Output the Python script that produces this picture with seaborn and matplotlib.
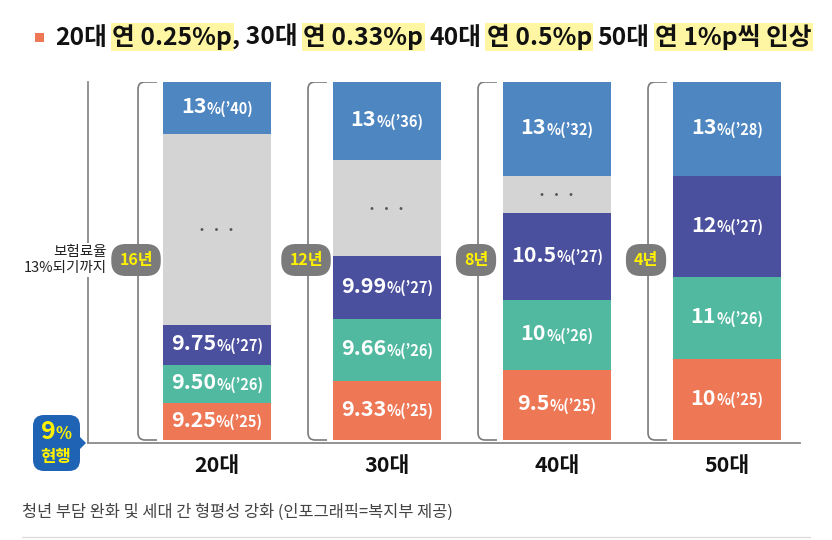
import matplotlib.pyplot as plt
import seaborn as sns
from matplotlib.path import Path
from matplotlib.patches import PathPatch, FancyBboxPatch, Polygon, Rectangle
from matplotlib.offsetbox import TextArea, HPacker, AnnotationBbox

# ---- data ----
groups = ['20대', '30대', '40대', '50대']
years_to_13 = ['16년', '12년', '8년', '4년']

rate_2025 = ['9.25', '9.33', '9.5', '10']
rate_2026 = ['9.50', '9.66', '10', '11']
rate_2027 = ['9.75', '9.99', '10.5', '12']
rate_final = ['13', '13', '13', '13']
final_year = ['’40', '’36', '’32', '’28']

# segment heights (bottom -> top), relative units, "..." gap has no label
h_2025 = [37, 59, 70, 81]
h_2026 = [38, 62, 70, 82]
h_2027 = [40, 63, 87, 101]
h_gap = [191, 96, 37, 0]
h_final = [52, 78, 94, 94]

KR = ['Noto Sans CJK KR', 'DejaVu Sans']

sns.set_theme(style='white')
plt.rcParams['font.family'] = KR

fig = plt.figure(figsize=(8.32, 5.4), dpi=100)
ax = fig.add_axes([88 / 832, 97 / 540, 712 / 832, 361 / 540])

segments = [
    (h_2025, '#ee7756', rate_2025, ['’25'] * 4),
    (h_2026, '#52b9a1', rate_2026, ['’26'] * 4),
    (h_2027, '#4a4f9e', rate_2027, ['’27'] * 4),
    (h_gap, '#d4d4d4', None, None),
    (h_final, '#4e86c1', rate_final, final_year),
]

bar_w = 0.635
bottom = [0, 0, 0, 0]
for heights, color, vals, yrs in segments:
    sns.barplot(x=groups, y=heights, bottom=bottom, color=color, saturation=1,
                width=bar_w, errorbar=None, linewidth=0, ax=ax)
    for i in range(len(groups)):
        if heights[i] == 0:
            continue
        yc = bottom[i] + heights[i] / 2
        if vals is None:
            ax.text(i, yc, '•    •    •', ha='center', va='center',
                    color='#555555', fontsize=8.5)
        else:
            box = HPacker(children=[
                TextArea(vals[i], textprops=dict(color='white', fontsize=15.5,
                                                 fontweight='bold', family=KR)),
                TextArea('%(' + yrs[i] + ')', textprops=dict(color='white', fontsize=10.5,
                                                             fontweight='bold', family=KR)),
            ], align='baseline', pad=0, sep=0)
            ax.add_artist(AnnotationBbox(box, (i, yc), frameon=False,
                                         box_alignment=(0.5, 0.45), pad=0))
    bottom = [b + h for b, h in zip(bottom, heights)]

total = max(bottom)
ax.set_xlim((88 - 217) / 170, (800 - 217) / 170)
ax.set_ylim(-3, total)

# brackets + year badges
for i, label in enumerate(years_to_13):
    x_end = i - bar_w / 2 - 6 / 170
    x_line = i - bar_w / 2 - 25 / 170
    dx, dy = 7 / 170, 7
    verts = [(x_end, total), (x_line + dx, total), (x_line, total), (x_line, total - dy),
             (x_line, dy), (x_line, 0), (x_line + dx, 0), (x_end, 0)]
    codes = [Path.MOVETO, Path.LINETO, Path.CURVE3, Path.CURVE3,
             Path.LINETO, Path.CURVE3, Path.CURVE3, Path.LINETO]
    ax.add_patch(PathPatch(Path(verts, codes), fill=False, ec='#7a7a7a', lw=1.2))
    ax.text(x_line - 2 / 170, total / 2 + 1, label, ha='center', va='center', color='#fff200',
            fontsize=11.5, fontweight='bold',
            bbox=dict(boxstyle='round,pad=0.5,rounding_size=0.9', fc='#7b7b7b', ec='none'))

ax.text((107 - 217) / 170, 180, '보험료율\n13%되기까지', ha='right', va='center',
        fontsize=10.5, color='#222222', linespacing=1.2,
        bbox=dict(boxstyle='square,pad=0.15', fc='white', ec='none'), clip_on=False)

sns.despine(ax=ax, top=True, right=True)
for s in ('left', 'bottom'):
    ax.spines[s].set_color('#8a8a8a')
    ax.spines[s].set_linewidth(1.3)
ax.set_yticks([])
ax.set_xticks(range(len(groups)))
ax.set_xticklabels(groups, fontsize=15.5, fontweight='bold', color='#111111')
ax.tick_params(axis='x', length=0, pad=9)
ax.set_xlabel('')
ax.set_ylabel('')

# overlay in pixel coordinates for title / decorations
ov = fig.add_axes([0, 0, 1, 1], zorder=5)
ov.set_xlim(0, 832)
ov.set_ylim(540, 0)
ov.axis('off')
ov.patch.set_alpha(0)

# current-rate badge
ov.add_patch(FancyBboxPatch((33, 415), 47, 56, boxstyle='round,pad=0,rounding_size=11',
                            fc='#1f63b4', ec='none'))
ov.add_patch(Polygon([(79, 436), (86, 443), (79, 450)], closed=True, fc='#1f63b4', ec='none'))
badge = HPacker(children=[
    TextArea('9', textprops=dict(color='#fff200', fontsize=18, fontweight='bold', family=KR)),
    TextArea('%', textprops=dict(color='#fff200', fontsize=12, fontweight='bold', family=KR)),
], align='baseline', pad=0, sep=0)
ov.add_artist(AnnotationBbox(badge, (56, 432), frameon=False, box_alignment=(0.5, 0.5), pad=0))
ov.text(56, 457, '현행', ha='center', va='center', color='#fff200', fontsize=12, fontweight='bold')

# title
ov.add_patch(Rectangle((35, 33), 9, 9, fc='#ee7756', ec='none'))
pieces = [('20대', False, 4), ('연 0.25%p', True, 0), (', 30대', False, 4),
          ('연 0.33%p', True, 4), ('40대', False, 4), ('연 0.5%p', True, 4),
          ('50대', False, 4), ('연 1%p씩 인상', True, 0)]
hl = dict(boxstyle='square,pad=0.05', fc='#fff6a3', ec='none')
prev = ov.text(55, 38, pieces[0][0], ha='left', va='center', fontsize=17.8,
               fontweight='bold', color='#111111')
gap = pieces[0][2]
for txt, high, g in pieces[1:]:
    prev = ov.annotate(txt, xy=(1, 0), xycoords=prev, xytext=(gap, 0),
                       textcoords='offset points', ha='left', va='bottom', fontsize=17.8,
                       fontweight='bold', color='#111111', bbox=hl if high else None)
    gap = g

ov.text(22, 512, '청년 부담 완화 및 세대 간 형평성 강화 (인포그래픽=복지부 제공)',
        ha='left', va='center', fontsize=11.8, color='#444444')
ov.plot([22, 810], [537, 537], color='#dddddd', lw=1)

fig.savefig('out.png', dpi=100)
